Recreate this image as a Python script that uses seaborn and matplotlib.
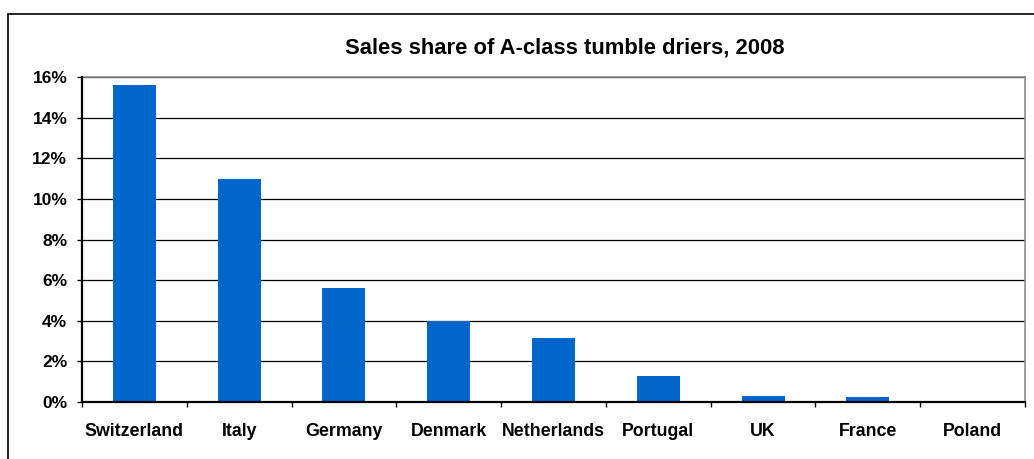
import matplotlib
matplotlib.use("Agg")
import matplotlib.pyplot as plt
from matplotlib.lines import Line2D
from matplotlib.ticker import FuncFormatter, FixedLocator
import seaborn as sns
import pandas as pd

countries = ["Switzerland", "Italy", "Germany", "Denmark", "Netherlands",
             "Portugal", "UK", "France", "Poland"]
share = [15.6, 11.0, 5.6, 4.0, 3.15, 1.28, 0.31, 0.23, 0.0]
title = "Sales share of A-class tumble driers, 2008"

sns.set_theme(style="white")
plt.rcParams['font.family'] = ['Liberation Sans', 'DejaVu Sans']
plt.rcParams['text.color'] = 'black'
plt.rcParams['xtick.color'] = 'black'
plt.rcParams['ytick.color'] = 'black'

W, H = 1034, 459
fig = plt.figure(figsize=(W / 100, H / 100), dpi=100)
ax = fig.add_axes([82 / W, 1 - 402 / H, (1025 - 82) / W, (402 - 77) / H])

df = pd.DataFrame({"country": countries, "share": share})
sns.barplot(data=df, x="country", y="share", ax=ax, color="#0066CC",
            width=0.41, saturation=1, zorder=3, linewidth=0, edgecolor="none")

ax.set_xlim(-0.5, len(countries) - 0.5)
ax.set_ylim(0, 16)
ax.set_yticks(range(0, 17, 2))
ax.yaxis.set_major_formatter(FuncFormatter(lambda v, p: f"{int(v)}%"))
ax.set_xlabel("")
ax.set_ylabel("")

ax.grid(axis="y", color="black", linewidth=0.9, zorder=0)
ax.set_axisbelow(True)

for s in ["left", "bottom"]:
    ax.spines[s].set_color("black")
    ax.spines[s].set_linewidth(1.6)
    ax.spines[s].set_zorder(5)
for s in ["top", "right"]:
    ax.spines[s].set_color("#8c8c8c")
    ax.spines[s].set_linewidth(1.2)
    ax.spines[s].set_zorder(4)

ax.tick_params(axis="y", which="major", direction="out", length=3.6, width=1,
               color="black", left=True, labelsize=12.5, pad=7, labelcolor="black")
ax.tick_params(axis="x", which="major", length=0, labelsize=12.8, pad=15, labelcolor="black")
ax.xaxis.set_minor_locator(FixedLocator([i - 0.5 for i in range(len(countries) + 1)]))
ax.tick_params(axis="x", which="minor", direction="out", length=3.6, width=1,
               color="black", bottom=True)
for lab in ax.get_xticklabels() + ax.get_yticklabels():
    lab.set_fontweight("bold")

fig.text(565 / W, 1 - 48 / H, title, ha="center", va="center",
         fontsize=15.8, fontweight="bold", color="black")

# outer chart border (left and top edges visible)
fig.add_artist(Line2D([7.5 / W, 7.5 / W], [0, 1 - 14 / H], color="black", linewidth=1.2,
                      transform=fig.transFigure))
fig.add_artist(Line2D([7.5 / W, 1], [1 - 14 / H, 1 - 14 / H], color="black", linewidth=1.2,
                      transform=fig.transFigure))

fig.savefig("out.png", dpi=100, facecolor="white")
